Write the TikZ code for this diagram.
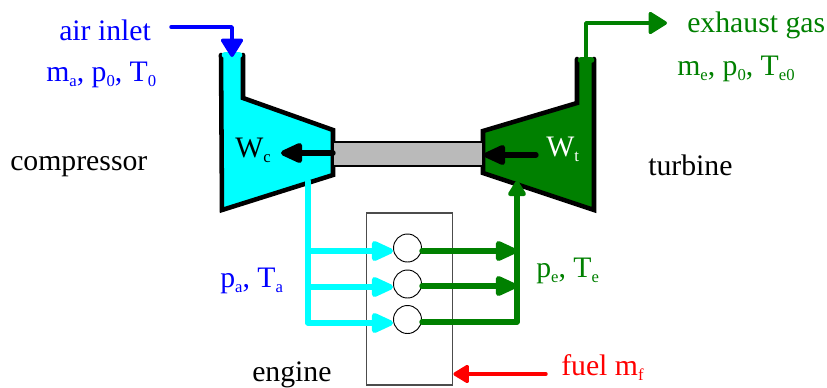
\documentclass[tikz,border=0pt]{standalone}
\usepackage{fontspec}
\setmainfont{Liberation Serif}
\usetikzlibrary{arrows.meta,calc}
\definecolor{gcol}{RGB}{0,128,0}
\definecolor{ccol}{RGB}{0,255,255}
\definecolor{bcol}{RGB}{0,0,255}
\newcommand{\sbs}[1]{\raisebox{-0.2em}{\fontsize{12.5}{13}\selectfont #1}}
\tikzset{
 lab/.style={inner sep=0pt,font=\fontsize{22.3}{24}\selectfont,anchor=base west},
 flow/.style={line width=4pt,line join=round,line cap=round},
 flowthin/.style={line width=2.6pt,line join=round,line cap=round},
 tiplong/.style={-{Triangle[length=19pt,width=16pt,round]}},
 tipwide/.style={-{Triangle[length=15pt,width=18pt,round]}},
 tipsm/.style={-{Triangle[length=13pt,width=15pt,round]}},
 casing/.style={line width=3.4pt,line join=miter,line cap=round,black},
 cyl/.style={circle,draw=black,line width=0.7pt,fill=white,minimum size=21pt,inner sep=0pt},
}
\begin{document}
\begin{tikzpicture}[x=0.75pt,y=-0.75pt]
\useasboundingbox (0,0) rectangle (827,387);
% named points
\coordinate (c1) at (221,55); \coordinate (c2) at (243,55); \coordinate (c3) at (243,98);
\coordinate (c4) at (333,130); \coordinate (c5) at (333,175); \coordinate (c6) at (222,210);
\coordinate (t1) at (577,59); \coordinate (t2) at (577,103); \coordinate (t3) at (483,131);
\coordinate (t4) at (483,173); \coordinate (t5) at (594,210); \coordinate (t6) at (594,59);
% bodies
\fill[ccol] (c1)--(c2)--(c3)--(c4)--(c5)--(c6)--cycle;
\draw[casing] (c2)--(c3)--(c4)--(c5)--(c6)--(c1);
\fill[gcol] (t1)--(t2)--(t3)--(t4)--(t5)--(t6)--cycle;
\draw[casing] (t1)--(t2)--(t3)--(t4)--(t5)--(t6);
\draw[line width=5pt,ccol,line cap=round] (225,55)--(239,55);
\draw[line width=5pt,gcol,line cap=round] (581,60)--(591,60);
% shaft
\node[draw=black,line width=0.8pt,fill=black!27,minimum width=112pt,minimum height=18pt,inner sep=0pt] (shaft) at (408,154) {};
% engine
\node[draw=black!70,line width=0.8pt,minimum width=65pt,minimum height=129pt,inner sep=0pt] (engine) at (409.5,299) {};
% air in
\coordinate (a0) at (171,27); \coordinate (a1) at (232,27); \coordinate (a2) at (232,57);
\draw[flowthin,bcol,tipwide] (a0)--(a1)--(a2);
% exhaust
\coordinate (e0) at (586,57); \coordinate (e1) at (586,23); \coordinate (e2) at (667,23);
\draw[flowthin,gcol,tipwide] (e0)--(e1)--(e2);
% work arrows
\coordinate (ws1) at (333,153); \coordinate (we1) at (281,153);
\coordinate (ws2) at (536,155); \coordinate (we2) at (484,155);
\draw[flow,black,tiplong] (ws1)--(we1);
\draw[flow,black,tiplong] (ws2)--(we2);
% cylinders
\node[cyl] (k1) at (407.5,248) {};
\node[cyl] (k2) at (407.5,284) {};
\node[cyl] (k3) at (407.5,319.5) {};
% cyan
\coordinate (cs) at (308,181); \coordinate (cc1) at (308,251); \coordinate (cc2) at (308,287); \coordinate (cc3) at (308,323);
\draw[flow,ccol] (cs)--(cc3);
\draw[flow,ccol,tiplong] (cc1)--(k1.west |- cc1);
\draw[flow,ccol,tiplong] (cc2)--(k2.west |- cc2);
\draw[flow,ccol,tiplong] (cc3)--(k3.west |- cc3);
% green
\coordinate (gg1) at (517,251); \coordinate (gg2) at (517,286); \coordinate (gg3) at (517,322); \coordinate (gt) at (517,181);
\draw[flow,gcol,tiplong] (k1.east |- gg1)--(gg1);
\draw[flow,gcol,tiplong] (k2.east |- gg2)--(gg2);
\draw[flow,gcol] (k3.east |- gg3)--(gg3);
\draw[flow,gcol,tipsm] (gg3)--(gt);
% red
\coordinate (r0) at (546,374);
\draw[flowthin,red,tipsm] (r0)--(engine.east |- r0);
% labels
\node[lab,bcol] (l1) at (59,40) {air inlet};
\node[lab,bcol] (l2) at (46,81) {m\sbs{a}, p\sbs{0}, T\sbs{0}};
\node[lab] (l3) at (10,170) {compressor};
\node[lab] (l4) at (235,157) {W\sbs{c}};
\node[lab,white] (l5) at (546,156) {W\sbs{t}};
\node[lab] (l6) at (648,175) {turbine};
\node[lab,gcol] (l7) at (687,32) {exhaust gas};
\node[lab,gcol] (l8) at (677,75) {m\sbs{e}, p\sbs{0}, T\sbs{e0}};
\node[lab,bcol] (l9) at (220,287) {p\sbs{a}, T\sbs{a}};
\node[lab,gcol] (l10) at (536,277) {p\sbs{e}, T\sbs{e}};
\node[lab] (l11) at (252,381) {engine};
\node[lab,red] (l12) at (561,375) {fuel m\sbs{f}};
\end{tikzpicture}
\end{document}
